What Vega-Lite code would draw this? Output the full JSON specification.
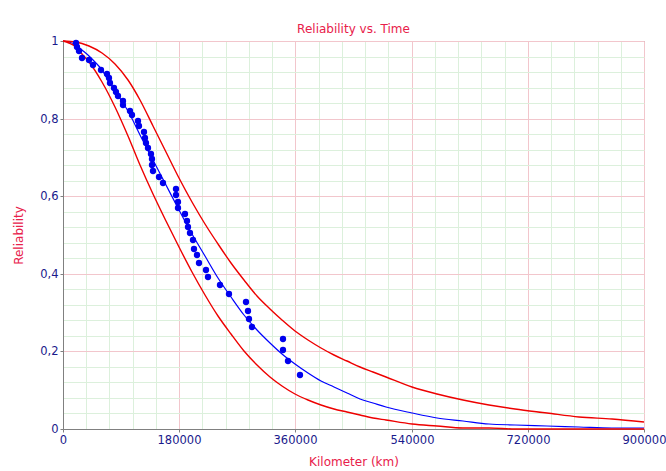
{
  "$schema": "https://vega.github.io/schema/vega-lite/v6.json",
  "width": 581,
  "height": 388,
  "autosize": {"type": "none"},
  "padding": {"left": 63, "top": 41, "right": 22, "bottom": 42},
  "background": "white",
  "title": {"text": "Reliability vs. Time", "color": "#e8204a", "font": "DejaVu Sans", "fontSize": 12, "fontWeight": "normal", "anchor": "middle", "offset": -1},
  "config": {
    "view": {"stroke": "#8c8c8c", "strokeWidth": 1},
    "axis": {"labelFont": "DejaVu Sans", "labelFontSize": 11.5, "labelColor": "#1a1a8c", "titleFont": "DejaVu Sans", "titleFontSize": 12, "titleFontWeight": "normal", "titleColor": "#e8204a", "domainColor": "#808080", "labelOverlap": false, "labelFlush": false, "gridWidth": 1}
  },
  "datasets": {
    "fit": [
      {"t": 0, "R": 1}, {"t": 10000, "R": 0.997}, {"t": 20000, "R": 0.989}, {"t": 30000, "R": 0.978}, {"t": 40000, "R": 0.962}, {"t": 50000, "R": 0.945}, {"t": 60000, "R": 0.924}, {"t": 70000, "R": 0.9}, {"t": 80000, "R": 0.875}, {"t": 90000, "R": 0.848}, {"t": 100000, "R": 0.819}, {"t": 120000, "R": 0.758}, {"t": 140000, "R": 0.694}, {"t": 160000, "R": 0.629}, {"t": 180000, "R": 0.565}, {"t": 200000, "R": 0.503}, {"t": 220000, "R": 0.445}, {"t": 240000, "R": 0.389}, {"t": 260000, "R": 0.339}, {"t": 280000, "R": 0.294}, {"t": 300000, "R": 0.256}, {"t": 320000, "R": 0.222}, {"t": 340000, "R": 0.193}, {"t": 360000, "R": 0.167}, {"t": 380000, "R": 0.145}, {"t": 400000, "R": 0.125}, {"t": 420000, "R": 0.107}, {"t": 440000, "R": 0.092}, {"t": 460000, "R": 0.078}, {"t": 480000, "R": 0.066}, {"t": 500000, "R": 0.056}, {"t": 540000, "R": 0.04}, {"t": 580000, "R": 0.029}, {"t": 620000, "R": 0.02}, {"t": 660000, "R": 0.014}, {"t": 700000, "R": 0.01}, {"t": 750000, "R": 0.0065}, {"t": 800000, "R": 0.004}, {"t": 850000, "R": 0.0025}, {"t": 900000, "R": 0.0015}
    ],
    "bounds": [
      {"b": "upper", "t": 0, "R": 1}, {"b": "upper", "t": 20000, "R": 0.997}, {"b": "upper", "t": 40000, "R": 0.988}, {"b": "upper", "t": 60000, "R": 0.97}, {"b": "upper", "t": 80000, "R": 0.94}, {"b": "upper", "t": 100000, "R": 0.9}, {"b": "upper", "t": 120000, "R": 0.848}, {"b": "upper", "t": 140000, "R": 0.781}, {"b": "upper", "t": 160000, "R": 0.715}, {"b": "upper", "t": 180000, "R": 0.648}, {"b": "upper", "t": 200000, "R": 0.585}, {"b": "upper", "t": 220000, "R": 0.529}, {"b": "upper", "t": 240000, "R": 0.476}, {"b": "upper", "t": 260000, "R": 0.427}, {"b": "upper", "t": 280000, "R": 0.383}, {"b": "upper", "t": 300000, "R": 0.344}, {"b": "upper", "t": 320000, "R": 0.31}, {"b": "upper", "t": 340000, "R": 0.28}, {"b": "upper", "t": 360000, "R": 0.253}, {"b": "upper", "t": 380000, "R": 0.23}, {"b": "upper", "t": 400000, "R": 0.21}, {"b": "upper", "t": 420000, "R": 0.192}, {"b": "upper", "t": 440000, "R": 0.175}, {"b": "upper", "t": 460000, "R": 0.16}, {"b": "upper", "t": 480000, "R": 0.146}, {"b": "upper", "t": 500000, "R": 0.133}, {"b": "upper", "t": 540000, "R": 0.109}, {"b": "upper", "t": 580000, "R": 0.09}, {"b": "upper", "t": 620000, "R": 0.074}, {"b": "upper", "t": 660000, "R": 0.061}, {"b": "upper", "t": 700000, "R": 0.051}, {"b": "upper", "t": 750000, "R": 0.041}, {"b": "upper", "t": 800000, "R": 0.032}, {"b": "upper", "t": 850000, "R": 0.025}, {"b": "upper", "t": 900000, "R": 0.019},
      {"b": "lower", "t": 0, "R": 1}, {"b": "lower", "t": 10000, "R": 0.996}, {"b": "lower", "t": 20000, "R": 0.984}, {"b": "lower", "t": 30000, "R": 0.967}, {"b": "lower", "t": 40000, "R": 0.945}, {"b": "lower", "t": 60000, "R": 0.895}, {"b": "lower", "t": 80000, "R": 0.83}, {"b": "lower", "t": 100000, "R": 0.755}, {"b": "lower", "t": 120000, "R": 0.68}, {"b": "lower", "t": 140000, "R": 0.605}, {"b": "lower", "t": 160000, "R": 0.535}, {"b": "lower", "t": 180000, "R": 0.468}, {"b": "lower", "t": 200000, "R": 0.405}, {"b": "lower", "t": 220000, "R": 0.346}, {"b": "lower", "t": 240000, "R": 0.292}, {"b": "lower", "t": 260000, "R": 0.244}, {"b": "lower", "t": 280000, "R": 0.201}, {"b": "lower", "t": 300000, "R": 0.164}, {"b": "lower", "t": 320000, "R": 0.134}, {"b": "lower", "t": 340000, "R": 0.11}, {"b": "lower", "t": 360000, "R": 0.091}, {"b": "lower", "t": 380000, "R": 0.076}, {"b": "lower", "t": 400000, "R": 0.063}, {"b": "lower", "t": 420000, "R": 0.052}, {"b": "lower", "t": 440000, "R": 0.043}, {"b": "lower", "t": 460000, "R": 0.035}, {"b": "lower", "t": 480000, "R": 0.028}, {"b": "lower", "t": 500000, "R": 0.022}, {"b": "lower", "t": 540000, "R": 0.0125}, {"b": "lower", "t": 580000, "R": 0.007}, {"b": "lower", "t": 620000, "R": 0.0038}, {"b": "lower", "t": 660000, "R": 0.002}, {"b": "lower", "t": 700000, "R": 0.001}, {"b": "lower", "t": 800000, "R": 0.0003}, {"b": "lower", "t": 900000, "R": 0.0001}
    ],
    "points": [
      {"t": 20100, "R": 0.995}, {"t": 22200, "R": 0.984}, {"t": 25200, "R": 0.973}, {"t": 29000, "R": 0.956}, {"t": 40700, "R": 0.95}, {"t": 46000, "R": 0.937}, {"t": 58400, "R": 0.926}, {"t": 67700, "R": 0.915}, {"t": 70800, "R": 0.904}, {"t": 72800, "R": 0.892}, {"t": 79000, "R": 0.878}, {"t": 82100, "R": 0.868}, {"t": 85700, "R": 0.857}, {"t": 92500, "R": 0.845}, {"t": 93400, "R": 0.834}, {"t": 103800, "R": 0.819}, {"t": 106400, "R": 0.808}, {"t": 115700, "R": 0.793}, {"t": 118200, "R": 0.78}, {"t": 125900, "R": 0.765}, {"t": 127000, "R": 0.751}, {"t": 128600, "R": 0.738}, {"t": 132100, "R": 0.725}, {"t": 135900, "R": 0.709}, {"t": 137400, "R": 0.695}, {"t": 137400, "R": 0.68}, {"t": 139900, "R": 0.664}, {"t": 149200, "R": 0.65}, {"t": 155400, "R": 0.635}, {"t": 174600, "R": 0.619}, {"t": 174600, "R": 0.602}, {"t": 177700, "R": 0.586}, {"t": 177700, "R": 0.57}, {"t": 189000, "R": 0.553}, {"t": 191600, "R": 0.537}, {"t": 194100, "R": 0.52}, {"t": 196700, "R": 0.504}, {"t": 201800, "R": 0.487}, {"t": 203400, "R": 0.465}, {"t": 207100, "R": 0.448}, {"t": 211100, "R": 0.428}, {"t": 221100, "R": 0.411}, {"t": 224100, "R": 0.392}, {"t": 243200, "R": 0.372}, {"t": 257100, "R": 0.349}, {"t": 283500, "R": 0.328}, {"t": 286100, "R": 0.305}, {"t": 288100, "R": 0.284}, {"t": 292800, "R": 0.262}, {"t": 340300, "R": 0.232}, {"t": 340300, "R": 0.203}, {"t": 349000, "R": 0.175}, {"t": 367100, "R": 0.139}
    ]
  },
  "encoding": {
    "x": {"field": "t", "type": "quantitative", "scale": {"domain": [0, 900000], "nice": false, "round": true},
      "axis": {"title": "Kilometer (km)", "values": [0,36000,72000,108000,144000,180000,216000,252000,288000,324000,360000,396000,432000,468000,504000,540000,576000,612000,648000,684000,720000,756000,792000,828000,864000,900000],
        "labelExpr": "datum.value % 180000 === 0 ? toString(datum.value) : ''",
        "labelOverlap": false, "labelFlush": false, "labelPadding": 2, "tickSize": 3, "titlePadding": 11,
        "gridColor": {"condition": {"test": "datum.value % 180000 === 0", "value": "#f2c6cc"}, "value": "#dcf0dc"},
        "tickColor": {"condition": {"test": "datum.value % 180000 === 0", "value": "#808080"}, "value": "transparent"}}},
    "y": {"field": "R", "type": "quantitative", "scale": {"domain": [0, 1], "nice": false, "round": true},
      "axis": {"title": "Reliability", "values": [0,0.04,0.08,0.12,0.16,0.2,0.24,0.28,0.32,0.36,0.4,0.44,0.48,0.52,0.56,0.6,0.64,0.68,0.72,0.76,0.8,0.84,0.88,0.92,0.96,1],
        "labelExpr": "abs(datum.value*5 - round(datum.value*5)) < 0.000001 ? replace(toString(round(datum.value*10)/10), '.', ',') : ''",
        "labelOverlap": false, "labelFlush": false, "labelPadding": 2, "tickSize": 3, "titlePadding": 14,
        "gridColor": {"condition": {"test": "abs(datum.value*5 - round(datum.value*5)) < 0.000001", "value": "#f2c6cc"}, "value": "#dcf0dc"},
        "tickColor": {"condition": {"test": "abs(datum.value*5 - round(datum.value*5)) < 0.000001", "value": "#808080"}, "value": "transparent"}}}
  },
  "layer": [
    {
      "data": {"name": "fit"},
      "mark": {"type": "line", "color": "#0000ff", "strokeWidth": 1.2, "interpolate": "monotone"}
    },
    {
      "data": {"name": "bounds"},
      "mark": {"type": "line", "color": "#ee0000", "strokeWidth": 1.4, "interpolate": "monotone"},
      "encoding": {"detail": {"field": "b", "type": "nominal"}}
    },
    {
      "data": {"name": "points"},
      "mark": {"type": "circle", "color": "#0000ee", "opacity": 1, "size": 40}
    }
  ]
}
